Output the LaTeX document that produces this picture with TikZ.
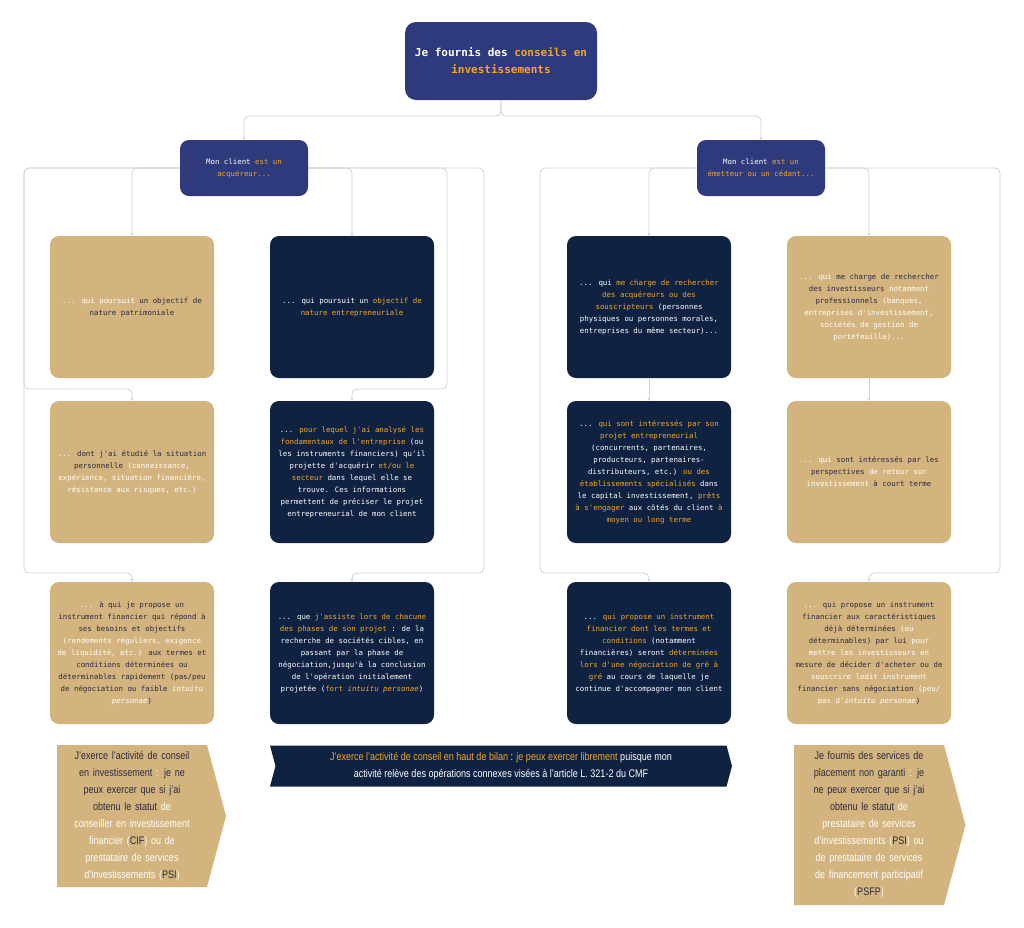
\documentclass[tikz,border=0pt]{standalone}
\usepackage{fontspec}
\usetikzlibrary{positioning,calc,arrows.meta,shapes.symbols}
\setmainfont{Liberation Sans}
\newfontfamily\monofont{DejaVu Sans Mono}
\definecolor{topC}{HTML}{2E3A7B}
\definecolor{darkC}{HTML}{0F2242}
\definecolor{tanC}{HTML}{D3B47E}
\definecolor{orC}{HTML}{F5A623}
\definecolor{inkC}{HTML}{2A2A44}
\definecolor{lineC}{HTML}{D2D2D2}
\newcommand{\og}[1]{\textcolor{orC}{#1}}
\newcommand{\wh}[1]{\textcolor{white}{#1}}
\newcommand{\ik}[1]{\textcolor{inkC}{#1}}
\tikzset{
  card/.style={rounded corners=9pt, minimum width=164pt, minimum height=142pt,
    inner sep=0pt, align=center, font=\monofont\fontsize{7.4}{12}\selectfont},
  tancard/.style={card, fill=tanC, text=inkC},
  darkcard/.style={card, fill=darkC, text=white},
  clientbox/.style={rounded corners=9pt, fill=topC, text=white, minimum width=128pt,
    minimum height=56pt, align=center, font=\monofont\fontsize{7.4}{12}\selectfont},
  link/.style={draw=lineC, line width=0.8pt, rounded corners=5pt, -{Stealth[length=3pt,width=3pt]}},
  banner/.style={signal, signal to=east, signal pointer angle=150, inner sep=0pt,
    align=center, font=\addfontfeature{FakeStretch=0.82}\fontsize{11}{17}\selectfont}
}
\begin{document}
\begin{tikzpicture}[x=1pt,y=-1pt]
  \useasboundingbox[fill=white] (0,0) rectangle (1024,927);

  \node[rounded corners=11pt, fill=topC, text=white, minimum width=192pt, minimum height=78pt,
    align=center, font=\monofont\bfseries\fontsize{11}{17}\selectfont] (top) at (501,61)
    {Je fournis des \og{conseils en}\\\og{investissements}};

  \node[clientbox] (cliA) at (244,168) {Mon client \og{est un}\\\og{acquéreur...}};
  \node[clientbox] (cliE) at (761,168) {Mon client \og{est un}\\\og{émetteur ou un cédant...}};

  % acquereur, patrimonial
  \node[tancard] (pat1) at (132,307) {\wh{... qui poursuit} un objectif de\\nature patrimoniale};
  \node[tancard] (pat2) at (132,472) {\wh{...} dont j'ai étudié la situation\\personnelle \wh{(connaissance,}\\
    \wh{expérience, situation financière,}\\\wh{résistance aux risques, etc.)}};
  \node[tancard] (pat3) at (132,653) {\wh{...} à qui je propose un\\instrument financier qui répond à\\
    ses besoins et objectifs\\\wh{(rendements réguliers, exigence}\\\wh{de liquidité, etc.)} aux termes et\\
    conditions déterminées ou\\déterminables rapidement (pas/peu\\de négociation ou faible \wh{\itshape intuitu}\\
    \wh{\itshape personae})};

  % acquereur, entrepreneurial
  \node[darkcard] (ent1) at (352,307) {... qui poursuit un \og{objectif de}\\\og{nature entrepreneuriale}};
  \node[darkcard] (ent2) at (352,472) {... \og{pour lequel j'ai analysé les}\\\og{fondamentaux de l'entreprise} (ou\\
    les instruments financiers) qu'il\\projette d'acquérir \og{et/ou le}\\\og{secteur} dans lequel elle se\\
    trouve. Ces informations\\permettent de préciser le projet\\entrepreneurial de mon client};
  \node[darkcard] (ent3) at (352,653) {... que \og{j'assiste lors de chacune}\\\og{des phases de son projet} : de la\\
    recherche de sociétés cibles, en\\passant par la phase de\\négociation,jusqu'à la conclusion\\
    de l'opération initialement\\projetée (\og{fort \itshape intuitu personae})};

  % emetteur, souscripteurs
  \node[darkcard] (emi1) at (649,307) {... qui \og{me charge de rechercher}\\\og{des acquéreurs ou des}\\
    \og{souscripteurs} (personnes\\physiques ou personnes morales,\\entreprises du même secteur)...};
  \node[darkcard] (emi2) at (649,472) {... \og{qui sont intéressés par son}\\\og{projet entrepreneurial}\\
    (concurrents, partenaires,\\producteurs, partenaires-\\distributeurs, etc.) \og{ou des}\\
    \og{établissements spécialisés} dans\\le capital investissement, \og{prêts}\\
    \og{à s'engager} aux côtés du client \og{à}\\\og{moyen ou long terme}};
  \node[darkcard] (emi3) at (649,653) {... \og{qui propose un instrument}\\\og{financier dont les termes et}\\
    \og{conditions} (notamment\\financières) seront \og{déterminées}\\\og{lors d'une négociation de gré à}\\
    \og{gré} au cours de laquelle je\\continue d'accompagner mon client};

  % emetteur, investisseurs
  \node[tancard] (inv1) at (869,307) {\wh{... qui} me charge de rechercher\\des investisseurs \wh{notamment}\\
    professionnels \wh{(banques,}\\\wh{entreprises d'investissement,}\\\wh{sociétés de gestion de}\\\wh{portefeuille)...}};
  \node[tancard] (inv2) at (869,472) {\wh{... qui} sont intéressés par les\\perspectives \wh{de retour sur}\\
    \wh{investissement} à court terme};
  \node[tancard] (inv3) at (869,653) {\wh{...} qui propose un instrument\\financier aux caractéristiques\\
    déjà déterminées \wh{(ou}\\déterminables) par lui \wh{pour}\\\wh{mettre les investisseurs en}\\
    mesure de décider d'acheter ou de\\\wh{souscrire ledit instrument}\\financier sans négociation \wh{(peu/}\\
    \wh{pas d'\itshape intuitu personae})};

  % statuts
  \node[banner, fill=tanC, text=inkC, minimum width=164pt, minimum height=142pt, text width=150pt]
    (banL) at (132,816) {J'exerce l'activité de conseil\\en investissement \wh{:} je ne\\peux exercer que si j'ai\\
    obtenu le statut \wh{de}\\\wh{conseiller en investissement}\\\wh{financier (}CIF\wh{) ou de}\\
    \wh{prestataire de services}\\\wh{d'investissements (}PSI\wh{)}};
  \node[banner, signal from=west, fill=darkC, text=white, minimum width=462pt, minimum height=41pt]
    (banM) at (501,766) {\og{J'exerce l'activité de conseil en haut de bilan} : \og{je peux exercer librement} puisque mon\\
    activité relève des opérations connexes visées à l'article L. 321-2 du CMF};
  \node[banner, fill=tanC, text=inkC, minimum width=164pt, minimum height=160pt, text width=150pt]
    (banR) at (869,825) {Je fournis des services de\\placement non garanti \wh{:} je\\ne peux exercer que si j'ai\\
    obtenu le statut \wh{de}\\\wh{prestataire de services}\\\wh{d'investissements (}PSI\wh{) ou}\\
    \wh{de prestataire de services}\\\wh{de financement participatif}\\\wh{(}PSFP\wh{)}};

  % points de passage
  \coordinate (splitT) at (501,116);
  \coordinate (bendA2) at (24,389);
  \coordinate (bendA3) at (24,573);
  \coordinate (bendB2) at (447,389);
  \coordinate (bendB3) at (484,573);
  \coordinate (bendC3) at (540,573);
  \coordinate (bendD3) at (1000,573);

  \draw[link] (top.south) -- (splitT) -| (cliA.north);
  \draw[link] (top.south) -- (splitT) -| (cliE.north);
  \draw[link] (cliA.west) -| (pat1.north);
  \draw[link] (cliA.east) -| (ent1.north);
  \draw[link] (cliA.west) -| (bendA2) -| (pat2.north);
  \draw[link] (cliA.west) -| (bendA3) -| (pat3.north);
  \draw[link] (cliA.east) -| (bendB2) -| (ent2.north);
  \draw[link] (cliA.east) -| (bendB3) -| (ent3.north);
  \draw[link] (cliE.west) -| (emi1.north);
  \draw[link] (cliE.east) -| (inv1.north);
  \draw[link] (emi1.south) -- (emi2.north);
  \draw[link] (inv1.south) -- (inv2.north);
  \draw[link] (cliE.west) -| (bendC3) -| (emi3.north);
  \draw[link] (cliE.east) -| (bendD3) -| (inv3.north);
\end{tikzpicture}
\end{document}
